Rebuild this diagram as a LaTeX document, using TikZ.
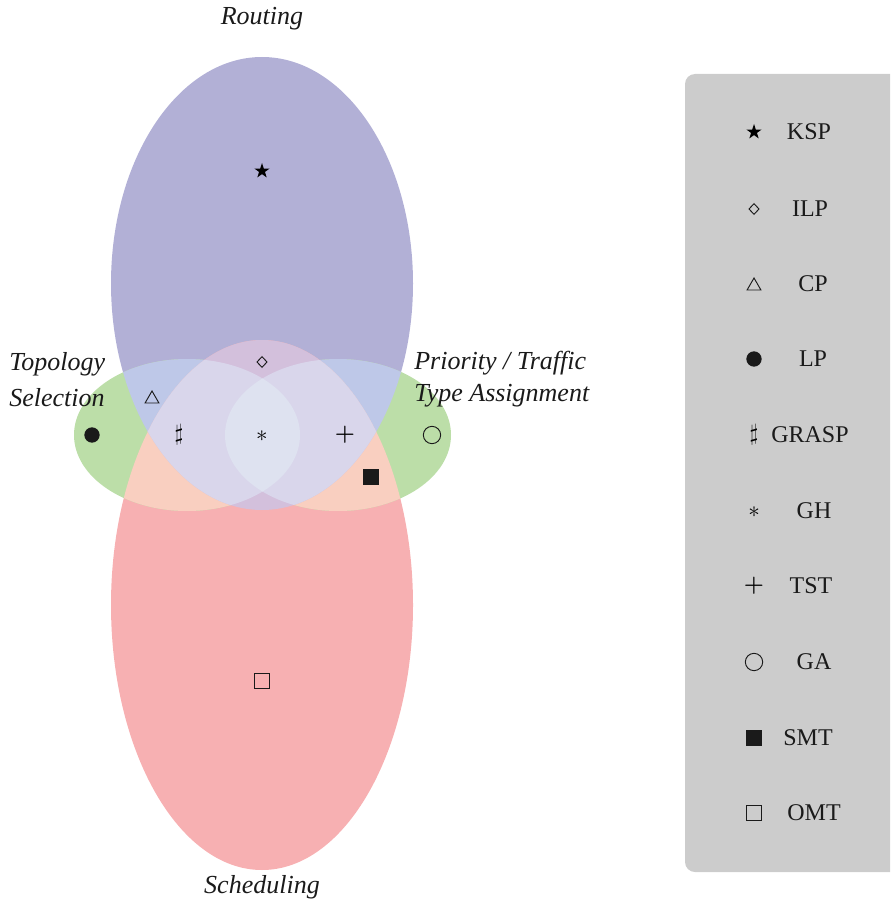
\documentclass[tikz,border=0pt]{standalone}
\usepackage{fontspec}
\setmainfont{Liberation Serif}
\usetikzlibrary{shapes.geometric}
\definecolor{cP}{HTML}{B2B0D6}
\definecolor{cR}{HTML}{F7B0B2}
\definecolor{cG}{HTML}{BCDEA8}
\definecolor{cPG}{HTML}{BEC8E8}
\definecolor{cRG}{HTML}{F9CFC0}
\definecolor{cPR}{HTML}{D3C0DC}
\definecolor{cPRG}{HTML}{D9D6EB}
\definecolor{cAll}{HTML}{DEE2F0}
\definecolor{cBox}{HTML}{CCCCCC}
\definecolor{symblack}{HTML}{1A1A1A}
\begin{document}
\begin{tikzpicture}[x=0.75pt,y=-0.75pt,
  sym/.style={inner sep=0pt, outer sep=0pt},
  sstar/.style={sym, star, star points=5, star point ratio=2.6, fill=black, minimum size=12pt},
  sdiam/.style={sym, diamond, draw=symblack, line width=0.7pt, minimum width=7.5pt, minimum height=8pt},
  stri/.style={sym, regular polygon, regular polygon sides=3, draw=symblack, line width=0.7pt, minimum size=12pt},
  sdot/.style={sym, circle, fill=symblack, minimum size=11.5pt},
  scirc/.style={sym, circle, draw=symblack, line width=0.7pt, minimum size=13pt},
  sbsq/.style={sym, rectangle, fill=symblack, minimum size=12pt},
  swsq/.style={sym, rectangle, draw=symblack, line width=0.8pt, minimum size=11.5pt},
  ssharp/.style={sym, font=\fontsize{18}{20}\selectfont},
  sast/.style={sym, font=\fontsize{19}{21}\selectfont},
  splus/.style={sym, font=\fontsize{17}{20}\selectfont\boldmath},
  legtxt/.style={inner sep=0pt, font=\fontsize{18}{20}\selectfont, text=symblack},
  setlbl/.style={inner sep=0pt, font=\fontsize{19.5}{23}\selectfont\itshape, text=symblack}
]
\useasboundingbox (0,0) rectangle (890,902);
\def\EllP{(262,283.5) ellipse [x radius=113.25pt, y radius=169.875pt]}
\def\EllR{(262,605) ellipse [x radius=113.25pt, y radius=198.75pt]}
\def\EllL{(187,435) ellipse [x radius=84.75pt, y radius=57pt]}
\def\EllRt{(338,435) ellipse [x radius=84.75pt, y radius=57pt]}
% base fills
\fill[cP] \EllP;
\fill[cR] \EllR;
\fill[cG] \EllL;
\fill[cG] \EllRt;
% overlaps
\begin{scope}
  \clip \EllP;
  \fill[cPG] \EllL;
  \fill[cPG] \EllRt;
\end{scope}
\begin{scope}
  \clip \EllR;
  \fill[cRG] \EllL;
  \fill[cRG] \EllRt;
\end{scope}
\begin{scope}
  \clip \EllP;
  \clip \EllR;
  \fill[cPR] \EllR;
  \fill[cPRG] \EllL;
  \fill[cPRG] \EllRt;
  \clip \EllL;
  \fill[cAll] \EllRt;
\end{scope}
% set labels
\node[setlbl, anchor=base] (lRouting) at (262,25) {Routing};
\node[setlbl, anchor=base] (lSched) at (262,893) {Scheduling};
\node[setlbl, anchor=base west, align=left, font=\fontsize{19.5}{27}\selectfont\itshape] (lTopo) at (9,406) {Topology\\Selection};
\node[setlbl, anchor=base west, align=left, font=\fontsize{19.5}{24}\selectfont\itshape] (lPrio) at (414,401) {Priority / Traffic\\Type Assignment};
% symbols in diagram
\node[sstar] (dKSP) at (262,171) {};
\node[sdiam] (dILP) at (262,362) {};
\node[stri] (dCP) at (152,399) {};
\node[sdot] (dLP) at (92,435) {};
\node[ssharp] (dGRASP) at (179,435) {$\sharp$};
\node[sast] (dGH) at (262,436) {$\ast$};
\node[splus] (dTST) at (345,435) {$+$};
\node[scirc] (dGA) at (432,435) {};
\node[sbsq] (dSMT) at (371,477) {};
\node[swsq] (dOMT) at (262,681) {};
% legend box
\begin{scope}
  \clip (0,0) rectangle (890,902);
  \fill[cBox, rounded corners=7.5pt] (685,74) rectangle (910,872);
\end{scope}
% legend entries
\node[sstar] (kKSP) at (754,132) {};
\node[legtxt] (tKSP) at (809,132) {KSP};
\node[sdiam] (kILP) at (754,209) {};
\node[legtxt] (tILP) at (810,209) {ILP};
\node[stri] (kCP) at (754,286) {};
\node[legtxt] (tCP) at (813,284) {CP};
\node[sdot] (kLP) at (754,359) {};
\node[legtxt] (tLP) at (813,359) {LP};
\node[ssharp] (kGRASP) at (754,435) {$\sharp$};
\node[legtxt] (tGRASP) at (810,435) {GRASP};
\node[sast] (kGH) at (754,512) {$\ast$};
\node[legtxt] (tGH) at (814,511) {GH};
\node[splus] (kTST) at (754,586) {$+$};
\node[legtxt] (tTST) at (811,586) {TST};
\node[scirc] (kGA) at (754,662) {};
\node[legtxt] (tGA) at (814,662) {GA};
\node[sbsq] (kSMT) at (754,738) {};
\node[legtxt] (tSMT) at (808,738) {SMT};
\node[swsq] (kOMT) at (754,813) {};
\node[legtxt] (tOMT) at (814,813) {OMT};
\end{tikzpicture}
\end{document}
